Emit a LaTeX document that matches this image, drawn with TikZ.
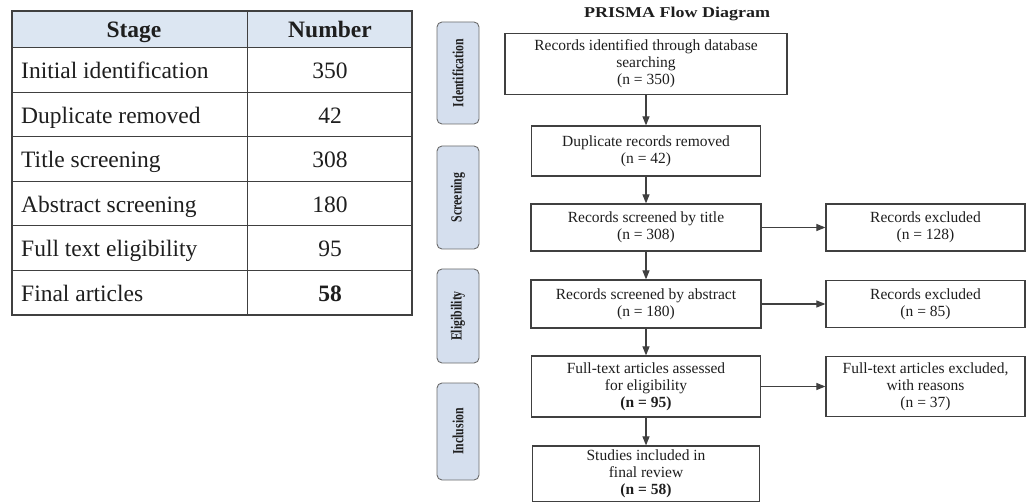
\documentclass[tikz,border=0pt]{standalone}
\usepackage{fontspec}
\setmainfont{Liberation Serif}
\usetikzlibrary{arrows.meta}

\definecolor{hdrblue}{HTML}{DCE6F2}
\definecolor{stageblue}{HTML}{D5DFEE}
\definecolor{linegray}{HTML}{404040}
\definecolor{inkgray}{HTML}{1E1E1E}

\tikzset{
  flowbox/.style={draw=linegray, line width=1.2pt, fill=white, align=center,
    inner sep=0pt, text=inkgray, font=\fontsize{15.5}{17}\selectfont},
  stagebox/.style={draw=gray!85!black, fill=stageblue, rounded corners=5pt,
    rotate=90, minimum height=42pt, inner sep=0pt, line width=0.9pt,
    text=inkgray, font=\bfseries\fontsize{15.5}{17}\selectfont},
  cell/.style={inner sep=0pt, text height=16pt, text depth=5pt, text=inkgray,
    font=\fontsize{23.5}{25}\selectfont},
  gridline/.style={linegray, line width=1pt},
  flowarrow/.style={->, linegray, line width=1.1pt},
}

\newcommand{\squeeze}[1]{\scalebox{0.76}[1]{#1}}

\begin{document}
\begin{tikzpicture}[x=1pt, y=-1pt, >={Triangle[length=9pt,width=7pt]}]
  \useasboundingbox (0,0) rectangle (1027,502);

  % summary table
  \fill[hdrblue] (12,11) rectangle (412,48);
  \foreach \y in {48,93,137,182,226,271}
    \draw[gridline] (12,\y) -- (412,\y);
  \draw[gridline] (247,11) -- (247,315);
  \draw[gridline, line width=1.2pt] (12,11) rectangle (412,315);
  \node[cell, font=\bfseries\fontsize{23.5}{25}\selectfont] (hStage) at (134,32) {Stage};
  \node[cell, font=\bfseries\fontsize{23.5}{25}\selectfont] (hNumber) at (330,32) {Number};
  \foreach \stg/\num [count=\i] in {Initial identification/350, Duplicate removed/42,
      Title screening/308, Abstract screening/180, Full text eligibility/95,
      Final articles/\textbf{58}} {
    \node[cell, anchor=west] (stage\i) at (21, 29+44.5*\i) {\stg};
    \node[cell] (num\i) at (330, 29+44.5*\i) {\num};
  }

  % PRISMA flow
  \node[text=inkgray, font=\bfseries\fontsize{15}{17}\selectfont] (heading) at (677,14)
    {\scalebox{1.2}[1]{PRISMA Flow Diagram}};

  \node[stagebox, minimum width=102pt] (stIdent) at (458,73) {\squeeze{Identification}};
  \node[stagebox, minimum width=103pt] (stScreen) at (458,197.5) {\squeeze{Screening}};
  \node[stagebox, minimum width=94pt] (stElig) at (458,316) {\squeeze{Eligibility}};
  \node[stagebox, minimum width=97pt] (stIncl) at (458,431.5) {\squeeze{Inclusion}};

  \node[flowbox, minimum width=282pt, minimum height=61pt] (idRec) at (646,64)
    {Records identified through database\\searching\\(n = 350)};
  \node[flowbox, minimum width=229pt, minimum height=50pt] (dupRec) at (646,151)
    {Duplicate records removed\\(n = 42)};
  \node[flowbox, minimum width=230pt, minimum height=47pt] (titleScr) at (646,227.5)
    {Records screened by title\\(n = 308)};
  \node[flowbox, minimum width=230pt, minimum height=48pt] (absScr) at (646,304)
    {Records screened by abstract\\(n = 180)};
  \node[flowbox, minimum width=229pt, minimum height=61pt] (fullText) at (646,386.5)
    {Full-text articles assessed\\for eligibility\\\textbf{(n = 95)}};
  \node[flowbox, minimum width=227pt, minimum height=56pt] (included) at (646,474)
    {Studies included in\\final review\\\textbf{(n = 58)}};

  \node[flowbox, minimum width=199pt, minimum height=47pt] (exTitle) at (925.5,227.5)
    {Records excluded\\(n = 128)};
  \node[flowbox, minimum width=199pt, minimum height=47pt] (exAbs) at (925.5,304)
    {Records excluded\\(n = 85)};
  \node[flowbox, minimum width=199pt, minimum height=60pt] (exFull) at (925.5,386.5)
    {Full-text articles excluded,\\with reasons\\(n = 37)};

  \draw[flowarrow] (idRec) -- (dupRec);
  \draw[flowarrow] (dupRec) -- (titleScr);
  \draw[flowarrow] (titleScr) -- (absScr);
  \draw[flowarrow] (absScr) -- (fullText);
  \draw[flowarrow] (fullText) -- (included);
  \draw[flowarrow] (titleScr) -- (exTitle);
  \draw[flowarrow] (absScr) -- (exAbs);
  \draw[flowarrow] (fullText) -- (exFull);
\end{tikzpicture}
\end{document}
